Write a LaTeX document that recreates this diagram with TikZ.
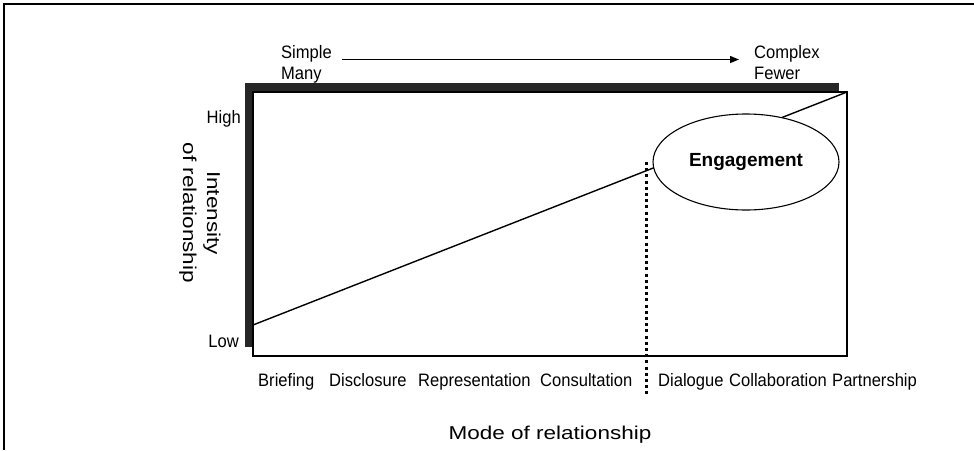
\documentclass[tikz,border=0pt]{standalone}
\usepackage{fontspec}
\setmainfont{Liberation Sans}
\newfontfamily\widefont[FakeStretch=1.21]{Liberation Sans}
\newfontfamily\tallfont[FakeStretch=0.92]{Liberation Sans}
\usetikzlibrary{arrows.meta,shapes.geometric}
\begin{document}
\begin{tikzpicture}[x=1pt,y=-1pt,
  lbl/.style={font=\tallfont\fontsize{18}{21}\selectfont, inner sep=0, anchor=base west},
  big/.style={font=\widefont\fontsize{18.6}{24}\selectfont, inner sep=0},
  thinline/.style={line width=1.4pt}]
\useasboundingbox (0,0) rectangle (974,450);
% outer frame
\draw[line width=2pt] (3.5,450) -- (3.5,3.5) -- (974,3.5);
% shadow and chart box
\fill[black!85] (245,83) rectangle (839,347);
\node[draw, fill=white, thinline, anchor=north west, inner sep=0, outer sep=0,
      minimum width=594pt, minimum height=264pt] (box) at (253,92) {};
% trend line
\coordinate (lo) at (253,325);
\draw[thinline] (lo) -- (box.north east);
% engagement ellipse
\node[ellipse, draw, fill=white, line width=1.1pt, inner sep=0,
      minimum width=186pt, minimum height=96pt,
      font=\bfseries\fontsize{19}{22}\selectfont] (eng) at (746,162) {Engagement};
% dotted divider
\coordinate (dtop) at (646,162);
\coordinate (dbot) at (646,395);
\draw[line width=3pt, dash pattern=on 3pt off 3.2pt] (dtop) -- (dbot);
% top arrow
\node[lbl] (simple) at (281,58) {Simple};
\node[lbl] (many) at (281,79) {Many};
\node[lbl] (complex) at (754,58) {Complex};
\node[lbl] (fewer) at (754,79) {Fewer};
\coordinate (arrS) at (342,59.5);
\coordinate (arrE) at (739,59.5);
\draw[thinline, -{Triangle[length=9pt,width=7pt]}] (arrS) -- (arrE);
% axis labels
\node[lbl, anchor=base east] (high) at (241,123) {High};
\node[lbl, anchor=base east] (low) at (239,347) {Low};
\node[big, rotate=-90, align=center] (intens) at (200,213) {Intensity\\of relationship};
% mode labels
\node[lbl] (m1) at (258,386) {Briefing};
\node[lbl] (m2) at (329,386) {Disclosure};
\node[lbl] (m3) at (418,386) {Representation};
\node[lbl] (m4) at (540,386) {Consultation};
\node[lbl] (m5) at (658,386) {Dialogue};
\node[lbl] (m6) at (729,386) {Collaboration};
\node[lbl] (m7) at (832,386) {Partnership};
\node[big, anchor=base] (mode) at (550,439) {Mode of relationship};
\end{tikzpicture}
\end{document}
